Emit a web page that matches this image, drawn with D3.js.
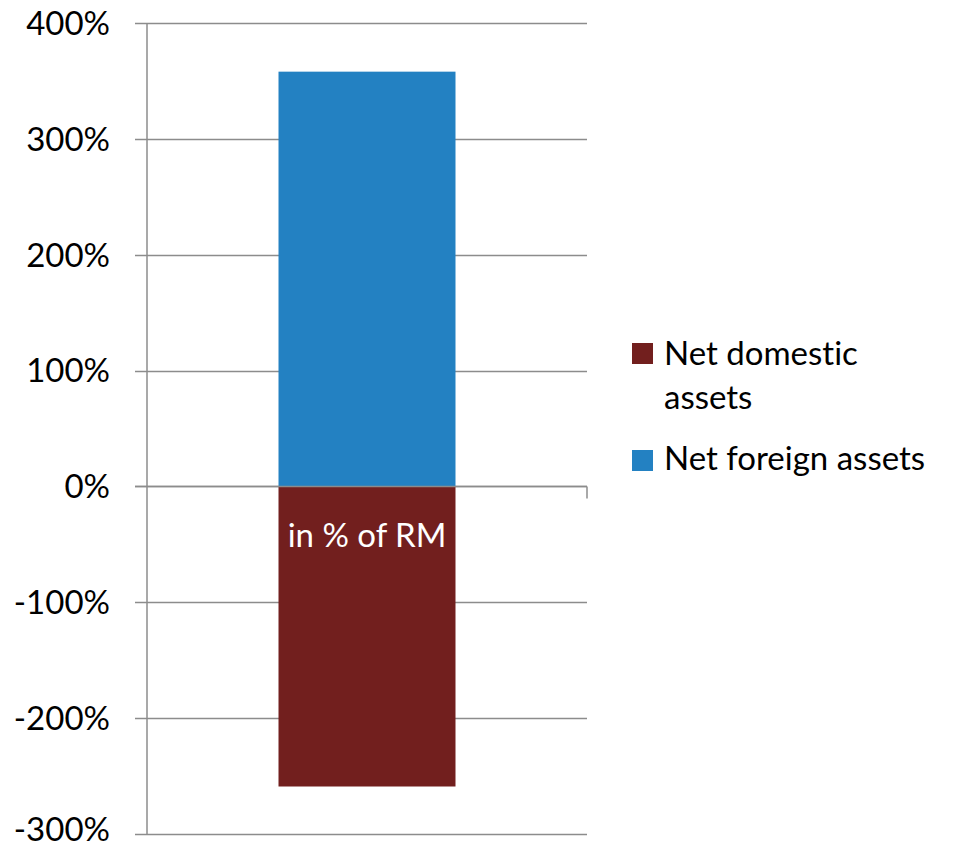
<!DOCTYPE html>
<html><head><meta charset="utf-8">
<script src="https://cdn.jsdelivr.net/npm/d3@7"></script>
<style>body{margin:0;background:#fff}svg{display:block}text{font-family:Lato,"Open Sans",sans-serif;font-variant-ligatures:none;font-feature-settings:"liga" 0, "clig" 0, "dlig" 0}</style>
</head><body><svg id="c" width="955" height="849"></svg>
<script>
const categories = ["in % of RM"];
const seriesNames = ["Net domestic assets", "Net foreign assets"];
const netDomestic = [-2.59];
const netForeign = [3.58];
const yTicks = [-3, -2, -1, 0, 1, 2, 3, 4];
const colors = ["#721F1E", "#2381C2"];
const FS = 33;

const svg = d3.select("#c");
const x = d3.scaleBand().domain(categories).range([147, 587]).paddingInner(0).paddingOuter(0.743);
const y = d3.scaleLinear().domain([-3, 4]).range([834, 23]);
const fmt = d => d3.format(".0%")(d).replace("\u2212", "-");

// gridlines
svg.append("g").selectAll("line").data(yTicks).join("line")
  .attr("x1", 135).attr("x2", 587)
  .attr("y1", d => Math.round(y(d)) + 0.5).attr("y2", d => Math.round(y(d)) + 0.5)
  .attr("stroke", "#8c8c8c").attr("stroke-width", 1.5);

// y axis line
svg.append("line").attr("x1", 147).attr("x2", 147).attr("y1", y(4)).attr("y2", y(-3))
  .attr("stroke", "#8c8c8c").attr("stroke-width", 1.5);

// y tick labels
svg.append("g").selectAll("text").data(yTicks).join("text")
  .attr("x", 110).attr("y", d => y(d)).attr("dy", d => d === -3 ? "0.2em" : "0.36em")
  .attr("text-anchor", "end").attr("font-size", FS).attr("fill", "#000")
  .text(fmt);

// bars
const stacks = [
  {name: seriesNames[1], vals: netForeign, color: colors[1]},
  {name: seriesNames[0], vals: netDomestic, color: colors[0]}
];
stacks.forEach(s => {
  svg.append("g").selectAll("rect").data(categories).join("rect")
    .attr("x", (c) => x(c)).attr("width", x.bandwidth())
    .attr("y", (c, i) => y(Math.max(0, s.vals[i])))
    .attr("height", (c, i) => Math.abs(y(s.vals[i]) - y(0)))
    .attr("fill", s.color);
});

// zero axis line on top
svg.append("line").attr("x1", 135).attr("x2", 587).attr("y1", Math.round(y(0)) + 0.5).attr("y2", Math.round(y(0)) + 0.5)
  .attr("stroke", "#8c8c8c").attr("stroke-width", 1.5);
svg.append("line").attr("x1", 587).attr("x2", 587).attr("y1", y(0)).attr("y2", y(0) + 12)
  .attr("stroke", "#8c8c8c").attr("stroke-width", 1.5);

// category label
svg.append("g").selectAll("text").data(categories).join("text")
  .attr("x", c => x(c) + x.bandwidth() / 2).attr("y", 547)
  .attr("text-anchor", "middle").attr("font-size", FS).attr("fill", "#fff")
  .text(c => c);

// legend
const leg = svg.append("g");
leg.append("rect").attr("x", 632).attr("y", 343).attr("width", 21).attr("height", 21).attr("fill", colors[0]);
const t1 = leg.append("text").attr("x", 664).attr("y", 365).attr("font-size", FS).attr("fill", "#000");
t1.append("tspan").attr("x", 664).text("Net domestic");
t1.append("tspan").attr("x", 664).attr("y", 409).text("assets");
leg.append("rect").attr("x", 632).attr("y", 450).attr("width", 21).attr("height", 21).attr("fill", colors[1]);
leg.append("text").attr("x", 664).attr("y", 470).attr("font-size", FS).attr("fill", "#000").text(seriesNames[1]);
</script></body></html>
